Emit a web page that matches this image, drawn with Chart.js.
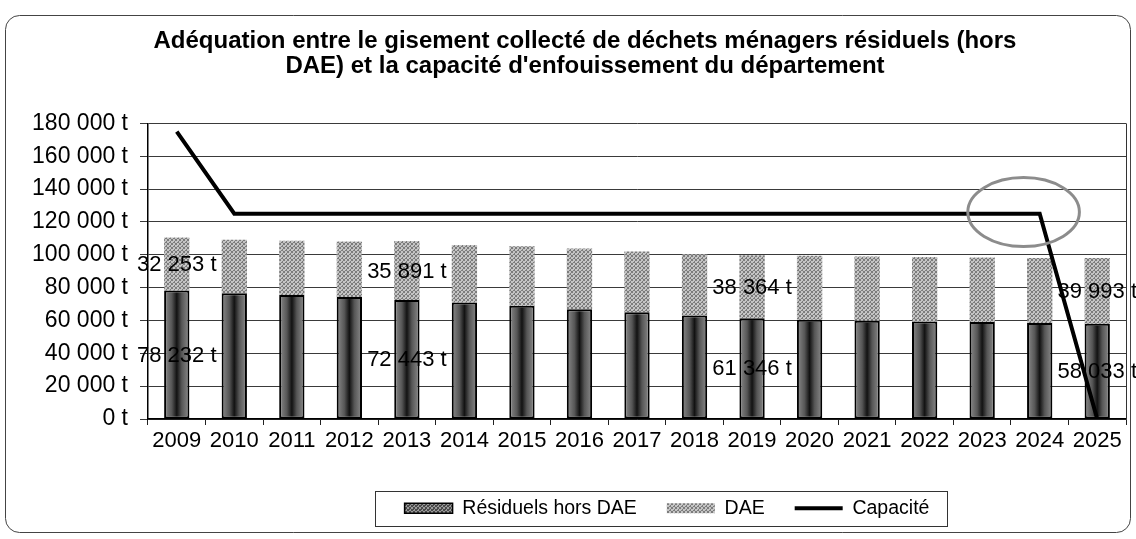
<!DOCTYPE html>
<html lang="fr">
<head>
<meta charset="utf-8">
<title>Gisement collecté et capacité d'enfouissement</title>
<script src="https://cdn.jsdelivr.net/npm/chart.js"></script>
<style>
  html, body { margin: 0; padding: 0; background: #fff; }
  canvas { display: block; }
</style>
</head>
<body>
<canvas id="gisementChart" width="1136" height="539"></canvas>
<script>
const years = ['2009', '2010', '2011', '2012', '2013', '2014', '2015', '2016', '2017',
               '2018', '2019', '2020', '2021', '2022', '2023', '2024', '2025'];
const residuels = [78232, 76600, 75500, 74300, 72443, 70900, 69000, 66900, 65000,
                   63000, 61346, 60500, 59900, 59400, 59000, 58400, 58033];
const dae = [32253, 32600, 33000, 33800, 35891, 35000, 36200, 36900, 37000,
             37300, 38364, 38900, 39100, 39200, 39400, 39600, 39993];
const capacite = [175000, 125000, 125000, 125000, 125000, 125000, 125000, 125000, 125000,
                  125000, 125000, 125000, 125000, 125000, 125000, 125000, 0];
const yTicks = [0, 20000, 40000, 60000, 80000, 100000, 120000, 140000, 160000, 180000];
const labelledYears = ['2009', '2013', '2019', '2025'];

// ellipse drawn around the end of the capacity plateau (year index, tonnes)
const zoneCapacite = { x: 14.72, y: 126000, rx: 0.97, ry: 21000 };

const FONT = "'Liberation Sans', Arial, sans-serif";

function tonnes(v) {
  return String(v).replace(/\B(?=(\d{3})+(?!\d))/g, ' ') + ' t';
}

function stipple(base, dots) {
  var c = document.createElement('canvas');
  c.width = 4; c.height = 4;
  var g = c.getContext('2d');
  g.fillStyle = base;
  g.fillRect(0, 0, 4, 4);
  g.fillStyle = dots;
  [[0, 0], [2, 1], [1, 2], [3, 3], [3, 0], [0, 3], [2, 2]].forEach(function (p) {
    g.fillRect(p[0], p[1], 1, 1);
  });
  return g.createPattern(c, 'repeat');
}

var daeFill = stipple('#c4c4c4', '#7c7c7c');
var residuelSwatch = stipple('#4a4a4a', '#9a9a9a');

// dark bars: grey edges with a black core
function residuelFill(ctx) {
  var chart = ctx.chart, x = chart.scales && chart.scales.x;
  if (!x || ctx.type !== 'data') return '#3c3c3c';
  var cx = x.getPixelForValue(ctx.dataIndex);
  var half = (x.right - x.left) / years.length * 0.43 / 2;
  if (!isFinite(cx) || !isFinite(half) || half <= 0) return '#3c3c3c';
  var g = chart.ctx.createLinearGradient(cx - half, 0, cx + half, 0);
  g.addColorStop(0, '#8a8a8a');
  g.addColorStop(0.3, '#565656');
  g.addColorStop(0.5, '#121212');
  g.addColorStop(0.7, '#565656');
  g.addColorStop(1, '#8a8a8a');
  return g;
}

const decor = {
  id: 'decor',
  afterLayout(chart) {
    // title sits a little right of centre, legend further right and higher
    chart.titleBlock.left += 17; chart.titleBlock.right += 17;
    var lg = chart.legend;
    lg.left += 99; lg.right += 99;
    lg.top -= 11; lg.bottom -= 11;
  },
  beforeDraw(chart) {
    var c = chart.ctx;
    c.save();
    c.fillStyle = '#fff';
    c.fillRect(0, 0, chart.width, chart.height);
    // outer rounded frame
    var l = 5.5, t = 15.5, r = 1130.5, b = 532.5, rad = 14;
    c.beginPath();
    c.moveTo(l + rad, t);
    c.lineTo(r - rad, t);
    c.arcTo(r, t, r, t + rad, rad);
    c.lineTo(r, b - rad);
    c.arcTo(r, b, r - rad, b, rad);
    c.lineTo(l + rad, b);
    c.arcTo(l, b, l, b - rad, rad);
    c.lineTo(l, t + rad);
    c.arcTo(l, t, l + rad, t, rad);
    c.strokeStyle = '#444';
    c.lineWidth = 1;
    c.stroke();
    c.restore();
  },
  afterDatasetDraw(chart, args) {
    // value labels go after the bars but under the capacity line
    if (args.index !== 0) return;
    var c = chart.ctx;
    c.save();
    c.font = '22px ' + FONT;
    c.fillStyle = '#000';
    c.textAlign = 'center';
    c.textBaseline = 'middle';
    [0, 1].forEach(function (d) {
      var meta = chart.getDatasetMeta(d);
      var values = chart.data.datasets[d].data;
      labelledYears.forEach(function (y) {
        var i = years.indexOf(y);
        var p = meta.data[i].getProps(['x', 'y', 'base'], true);
        c.fillText(tonnes(values[i]), p.x, (p.y + p.base) / 2 + 1);
      });
    });
    c.restore();
  },
  afterDatasetsDraw(chart) {
    var c = chart.ctx, a = chart.chartArea;
    var xs = chart.scales.x, ys = chart.scales.y;
    c.save();
    c.strokeStyle = '#333';
    c.lineWidth = 1;
    c.beginPath();
    c.moveTo(a.right + 0.5, a.top);
    c.lineTo(a.right + 0.5, a.bottom);
    c.stroke();

    var cx = xs.getPixelForValue(zoneCapacite.x);
    var cy = ys.getPixelForValue(zoneCapacite.y);
    var rx = xs.getPixelForValue(zoneCapacite.x + zoneCapacite.rx) - cx;
    var ry = cy - ys.getPixelForValue(zoneCapacite.y + zoneCapacite.ry);
    c.beginPath();
    c.ellipse(cx, cy, rx, ry, 0, 0, Math.PI * 2);
    c.strokeStyle = '#8c8c8c';
    c.lineWidth = 3;
    c.stroke();
    c.restore();
  },
  afterDraw(chart) {
    var hb = chart.legend.legendHitBoxes;
    if (!hb || !hb.length) return;
    var last = hb[hb.length - 1];
    var l = Math.round(hb[0].left - 30) + 0.5;
    var r = Math.round(last.left + last.width + 18) + 0.5;
    var t = Math.round(hb[0].top - 8) + 0.5;
    var b = Math.round(hb[0].top + hb[0].height + 8) + 0.5;
    var c = chart.ctx;
    c.save();
    c.strokeStyle = '#333';
    c.lineWidth = 1;
    c.strokeRect(l, t, r - l, b - t);
    c.restore();
  }
};

new Chart(document.getElementById('gisementChart'), {
  type: 'bar',
  data: {
    labels: years,
    datasets: [
      {
        label: 'Résiduels hors DAE',
        data: residuels,
        stack: 'gisement',
        order: 1,
        backgroundColor: residuelFill,
        borderColor: '#000',
        borderWidth: 2,
        borderSkipped: false,
        barPercentage: 0.44,
        categoryPercentage: 1
      },
      {
        label: 'DAE',
        data: dae,
        stack: 'gisement',
        order: 1,
        backgroundColor: daeFill,
        borderWidth: 0,
        barPercentage: 0.44,
        categoryPercentage: 1
      },
      {
        type: 'line',
        label: 'Capacité',
        data: capacite,
        order: 0,
        borderColor: '#000',
        backgroundColor: '#000',
        borderWidth: 4,
        pointRadius: 0,
        tension: 0,
        fill: false
      }
    ]
  },
  options: {
    responsive: false,
    animation: false,
    layout: { padding: { left: 10, right: 10, top: 0, bottom: 0 } },
    scales: {
      x: {
        stacked: true,
        grid: { drawOnChartArea: false, drawTicks: true, tickLength: 6, color: '#222', offset: true },
        border: { color: '#000', width: 1.5 },
        ticks: { font: { family: FONT, size: 22 }, color: '#000', padding: 3, autoSkip: false, maxRotation: 0 },
        afterFit(scale) { scale.height = 60.5; }
      },
      y: {
        stacked: true,
        min: 0,
        max: 180000,
        afterBuildTicks(scale) { scale.ticks = yTicks.map(function (v) { return { value: v }; }); },
        grid: { color: '#3a3a3a', lineWidth: 1, tickLength: 8 },
        border: { color: '#000', width: 1.5 },
        ticks: { font: { family: FONT, size: 23 }, color: '#000', padding: 12, callback: function (v) { return tonnes(v); } },
        afterFit(scale) { scale.width = 138; }
      }
    },
    plugins: {
      title: {
        display: true,
        text: ['Adéquation entre le gisement collecté de déchets ménagers résiduels (hors',
               'DAE) et la capacité d\'enfouissement du département'],
        font: { family: FONT, size: 24, weight: 'bold', lineHeight: 1.05 },
        color: '#000',
        padding: { top: 29, bottom: 44 }
      },
      legend: {
        position: 'bottom',
        labels: {
          font: { family: FONT, size: 19.5 },
          color: '#000',
          usePointStyle: true,
          pointStyleWidth: 48,
          boxHeight: 10,
          padding: 30,
          sort: function (a, b) { return a.datasetIndex - b.datasetIndex; },
          generateLabels: function (chart) {
            var items = Chart.defaults.plugins.legend.labels.generateLabels(chart);
            items.forEach(function (it) {
              if (it.datasetIndex === 2) {
                it.pointStyle = 'line';
                it.strokeStyle = '#000';
                it.lineWidth = 4;
              } else if (it.datasetIndex === 1) {
                it.pointStyle = 'rect';
                it.fillStyle = daeFill;
                it.lineWidth = 0;
              } else {
                it.pointStyle = 'rect';
                it.fillStyle = residuelSwatch;
                it.strokeStyle = '#000';
                it.lineWidth = 1.5;
              }
            });
            return items;
          }
        }
      },
      tooltip: { enabled: false }
    }
  },
  plugins: [decor]
});
</script>
</body>
</html>
